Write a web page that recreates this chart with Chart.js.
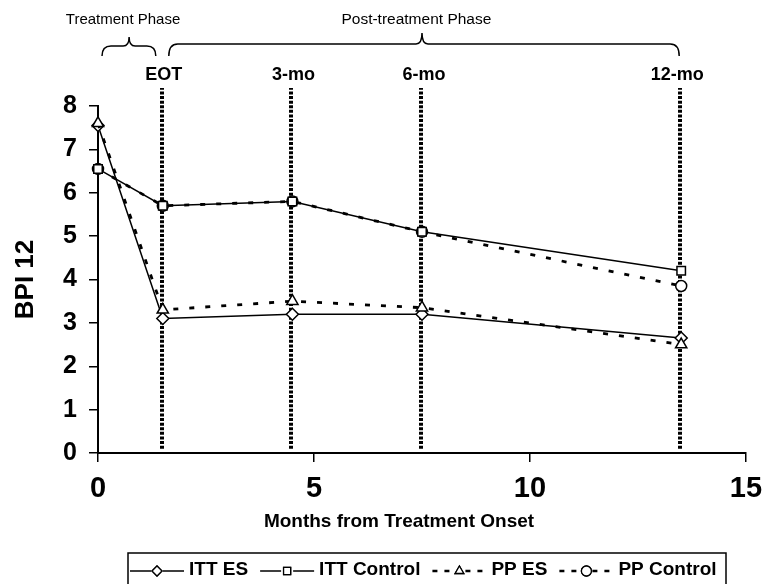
<!DOCTYPE html>
<html>
<head>
<meta charset="utf-8">
<script src="https://cdn.jsdelivr.net/npm/chart.js@4"></script>
<style>
html,body{margin:0;padding:0;background:#fff;}
#wrap{width:762px;height:584px;position:relative;}
</style>
</head>
<body>
<div id="wrap"><canvas id="c" width="762" height="584"></canvas></div>
<script>
const months = [0, 1.5, 4.5, 7.5, 13.5];
const timepointLabels = ["EOT", "3-mo", "6-mo", "12-mo"];
const timepointMonths = [1.5, 4.5, 7.5, 13.5];
const ittES = [7.55, 3.1, 3.2, 3.2, 2.65];
const ittControl = [6.55, 5.7, 5.8, 5.1, 4.2];
const ppES = [7.6, 3.3, 3.5, 3.35, 2.5];
const ppControl = [6.55, 5.7, 5.8, 5.1, 3.85];
const seriesNames = ["ITT ES", "ITT Control", "PP ES", "PP Control"];
const xTicks = [0, 5, 10, 15];
const yTicks = [0, 1, 2, 3, 4, 5, 6, 7, 8];
const phaseLabels = ["Treatment Phase", "Post-treatment Phase"];
const xTitle = "Months from Treatment Onset";

const BOLD = "Arial, 'Liberation Sans', sans-serif";

function pts(vals){ return months.map((m,i)=>({x:m, y:vals[i]})); }

const styles = [
  {pointStyle:'rectRot', dash:[], width:1.5, r:6, order:2},
  {pointStyle:'rect', dash:[], width:1.5, r:6, order:0},
  {pointStyle:'triangle', dash:[5,11], width:2.8, r:6.5, order:1},
  {pointStyle:'circle', dash:[5,11], width:2.8, r:5.5, order:3}
];
const allVals = [ittES, ittControl, ppES, ppControl];

const datasets = allVals.map((v,i)=>({
  label: seriesNames[i],
  data: pts(v),
  borderColor:'#000',
  backgroundColor:'#fff',
  borderWidth: styles[i].width,
  borderDash: styles[i].dash,
  pointStyle: styles[i].pointStyle,
  pointRadius: styles[i].r,
  pointBorderWidth: 1.5,
  pointBorderColor:'#000',
  pointBackgroundColor:'#fff',
  tension:0,
  clip:false,
  order: styles[i].order
}));

function brace(ctx, x1, x2, mid, yEnd, yLine, yPeak){
  ctx.beginPath();
  ctx.moveTo(x1, yEnd);
  ctx.quadraticCurveTo(x1, yLine, x1+9, yLine);
  ctx.lineTo(mid-6, yLine);
  ctx.quadraticCurveTo(mid, yLine, mid, yPeak);
  ctx.quadraticCurveTo(mid, yLine, mid+6, yLine);
  ctx.lineTo(x2-9, yLine);
  ctx.quadraticCurveTo(x2, yLine, x2, yEnd);
  ctx.stroke();
}

const labelShift = [1, 1, 2, -4];

const overlay = {
  id:'overlay',
  beforeDatasetsDraw(chart){
    const ctx = chart.ctx, xs = chart.scales.x, ys = chart.scales.y;
    ctx.save();
    ctx.strokeStyle = '#000';
    ctx.lineWidth = 4;
    ctx.setLineDash([3,1.6]);
    timepointMonths.forEach(m=>{
      const px = Math.round(xs.getPixelForValue(m)) - 1;
      ctx.beginPath();
      ctx.moveTo(px, ys.getPixelForValue(0.1));
      ctx.lineTo(px, 88);
      ctx.stroke();
    });
    ctx.setLineDash([]);
    ctx.fillStyle = '#000';
    ctx.font = "bold 18px " + BOLD;
    ctx.textAlign = 'center';
    ctx.textBaseline = 'middle';
    timepointMonths.forEach((m,i)=>{
      ctx.fillText(timepointLabels[i], xs.getPixelForValue(m) + labelShift[i], 75);
    });
    ctx.font = "bold 19px " + BOLD;
    ctx.fillText(xTitle, 399, 522);
    // phase labels
    ctx.font = "15px " + BOLD;
    ctx.fillText(phaseLabels[0], xs.getPixelForValue(0.58), 20);
    ctx.font = "15.5px " + BOLD;
    ctx.fillText(phaseLabels[1], xs.getPixelForValue(7.37), 20);
    // braces
    ctx.lineWidth = 1.5;
    brace(ctx, xs.getPixelForValue(0)+4, xs.getPixelForValue(1.5)-7, xs.getPixelForValue(0.72), 56, 46, 37);
    brace(ctx, xs.getPixelForValue(1.5)+6, xs.getPixelForValue(13.5)-2, xs.getPixelForValue(7.5), 56, 44, 33);
    ctx.restore();
  },
  afterDraw(chart){
    const ctx = chart.ctx;
    ctx.save();
    ctx.strokeStyle = '#000';
    ctx.fillStyle = '#000';
    ctx.lineWidth = 1.5;
    ctx.strokeRect(128, 553, 598, 60);
    const y = 571;
    const symW = 54, gapT = 5, gapN = 12;
    ctx.font = "bold 19px " + BOLD;
    let x = 130;
    seriesNames.forEach((name,i)=>{
      const st = styles[i];
      const l = x, r = x + symW, c = x + symW/2;
      ctx.lineWidth = st.dash.length ? 2.5 : 1.5;
      ctx.setLineDash(st.dash.length ? [5,7] : []);
      ctx.beginPath();
      ctx.moveTo(l, y); ctx.lineTo(c-6, y);
      ctx.moveTo(c+6, y); ctx.lineTo(r, y);
      ctx.stroke();
      ctx.setLineDash([]);
      ctx.lineWidth = 1.3;
      ctx.fillStyle = '#fff';
      Chart.helpers.drawPoint(ctx, {pointStyle: st.pointStyle, radius: 5, borderWidth: 1.3}, c, y);
      ctx.fill();
      ctx.stroke();
      ctx.fillStyle = '#000';
      ctx.textAlign = 'left';
      ctx.textBaseline = 'middle';
      const tx = r + gapT;
      ctx.fillText(name, tx, 570);
      x = tx + ctx.measureText(name).width + gapN;
    });
    ctx.restore();
  }
};

new Chart(document.getElementById('c'), {
  type:'line',
  data:{datasets},
  options:{
    responsive:false,
    animation:false,
    devicePixelRatio:1,
    layout:{padding:{left:0, right:16, top:106, bottom:0}},
    plugins:{legend:{display:false}, tooltip:{enabled:false}},
    scales:{
      x:{
        type:'linear', min:0, max:15,
        afterBuildTicks(s){ s.ticks = xTicks.map(v=>({value:v})); },
        afterFit(s){ s.height = 131; s.paddingLeft = 0; s.paddingRight = 0; },
        grid:{display:true, drawOnChartArea:false, drawTicks:true, tickLength:9, color:'#000', lineWidth:1.5},
        border:{display:true, color:'#000', width:2},
        ticks:{color:'#000', font:{family:BOLD, size:29, weight:'bold'}, padding:10, maxRotation:0}
      },
      y:{
        type:'linear', min:0, max:8,
        afterBuildTicks(s){ s.ticks = yTicks.map(v=>({value:v})); },
        afterFit(s){ s.width = 98; s.paddingTop = 0; s.paddingBottom = 0; },
        grid:{display:true, drawOnChartArea:false, drawTicks:true, tickLength:9, color:'#000', lineWidth:1.5},
        border:{display:true, color:'#000', width:2},
        ticks:{color:'#000', font:{family:BOLD, size:25, weight:'bold'}, padding:12},
        title:{display:true, text:'BPI 12', color:'#000', font:{family:BOLD, size:26, weight:'bold'}, padding:{top:10}}
      }
    }
  },
  plugins:[overlay]
});
</script>
</body>
</html>
